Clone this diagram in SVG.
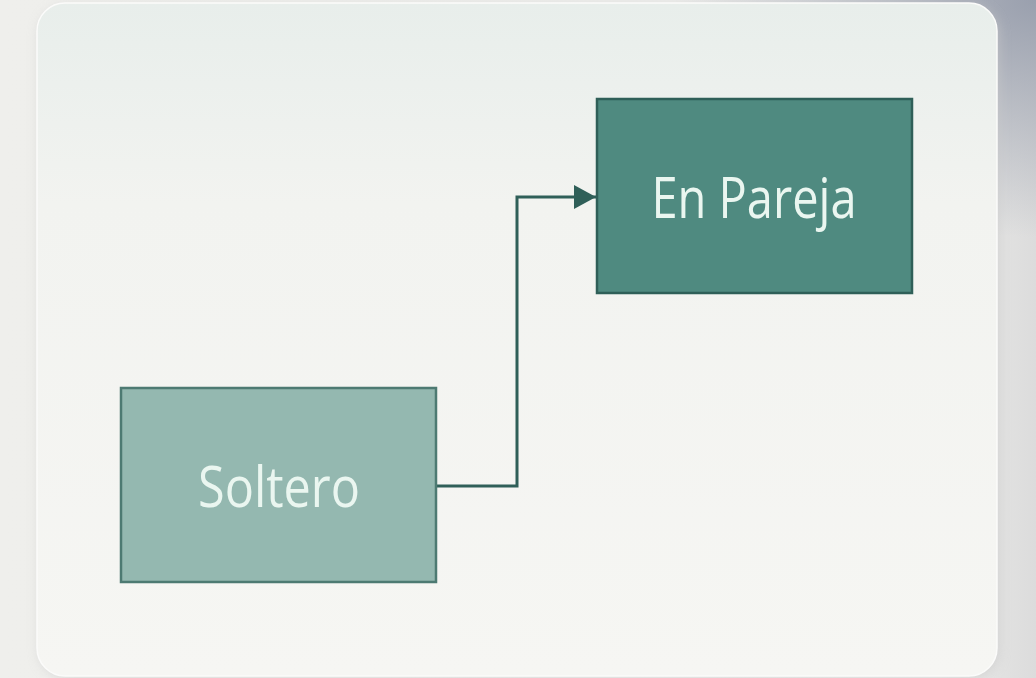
<svg xmlns="http://www.w3.org/2000/svg" width="1036" height="678" viewBox="0 0 1036 678">
<defs>
<linearGradient id="bg" x1="0" y1="0" x2="1" y2="0">
<stop offset="0" stop-color="#efefec"/>
<stop offset="0.9" stop-color="#ececea"/>
<stop offset="1" stop-color="#dcdcdc"/>
</linearGradient>
<radialGradient id="corner" cx="1" cy="0" r="0.35">
<stop offset="0" stop-color="#9aa0ae"/>
<stop offset="1" stop-color="#9aa0ae" stop-opacity="0"/>
</radialGradient>
<linearGradient id="card" x1="0" y1="0" x2="0" y2="1">
<stop offset="0" stop-color="#e8eeeb"/>
<stop offset="0.3" stop-color="#f2f3f0"/>
<stop offset="1" stop-color="#f6f6f3"/>
</linearGradient>
<filter id="sh" x="-10%" y="-10%" width="120%" height="120%">
<feGaussianBlur stdDeviation="6"/>
</filter>
<marker id="arr" viewBox="0 0 10 10" refX="10" refY="5" markerWidth="22" markerHeight="24" markerUnits="userSpaceOnUse" orient="auto" preserveAspectRatio="none">
<path d="M0,0 L10,5 L0,10 Z" fill="#2f5f58"/>
</marker>
<style>
.lbl{font-family:"Open Sans","Noto Sans",sans-serif;font-size:56px;fill:#eaf6f0;text-anchor:middle}
.conn{fill:none;stroke:#2f5f58;stroke-width:3}
</style>
</defs>
<rect width="1036" height="678" fill="url(#bg)"/>
<rect width="1036" height="678" fill="url(#corner)"/>
<rect x="39" y="6" width="960" height="672" rx="28" fill="#c8c8c8" filter="url(#sh)" opacity="0.6"/>
<rect x="37" y="3" width="960" height="673" rx="28" fill="url(#card)" stroke="#fbfbfa" stroke-width="1.5"/>
<g id="connectors">
<path class="conn" d="M436,486 H517 V197 H596" marker-end="url(#arr)"/>
</g>
<g id="node-soltero">
<rect x="121" y="388" width="315" height="194" fill="#94b8b0" stroke="#4d7a72" stroke-width="2.5"/>
<text class="lbl" x="279" y="507" textLength="162" lengthAdjust="spacingAndGlyphs">Soltero</text>
</g>
<g id="node-enpareja">
<rect x="597" y="99" width="315" height="194" fill="#4f8a80" stroke="#2f5f58" stroke-width="2.5"/>
<text class="lbl" x="754" y="218" textLength="205" lengthAdjust="spacingAndGlyphs">En Pareja</text>
</g>
</svg>
